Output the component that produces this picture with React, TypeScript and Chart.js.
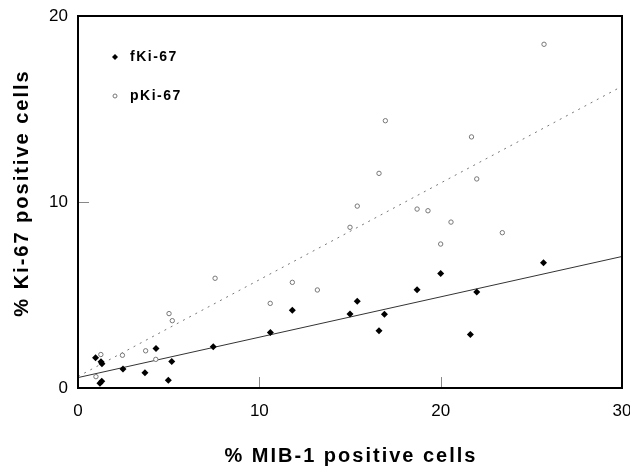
import React, { useEffect, useRef } from "react";
import { Chart, registerables } from "chart.js";

Chart.register(...registerables);

// Filled markers: fKi-67
const fKi67X = [0.97, 1.27, 1.32, 1.21, 1.31, 2.48, 3.69, 4.3, 5.17, 4.98, 7.46, 10.61, 11.82, 15.0, 15.4, 16.6, 16.9, 18.7, 20.0, 21.99, 21.64, 25.67];
const fKi67Y = [1.63, 1.41, 1.3, 0.25, 0.36, 1.02, 0.82, 2.13, 1.43, 0.42, 2.22, 2.99, 4.18, 3.98, 4.66, 3.08, 3.96, 5.28, 6.15, 5.16, 2.87, 6.74];

// Open markers: pKi-67
const pKi67X = [25.7, 16.95, 21.7, 16.6, 21.99, 15.4, 15.0, 18.7, 19.3, 20.57, 23.4, 20.0, 11.82, 13.2, 10.6, 7.56, 5.02, 5.2, 3.73, 2.45, 1.26, 4.29, 0.99];
const pKi67Y = [18.48, 14.37, 13.5, 11.54, 11.24, 9.78, 8.64, 9.62, 9.53, 8.92, 8.35, 7.74, 5.68, 5.27, 4.55, 5.9, 4.0, 3.62, 2.0, 1.76, 1.8, 1.54, 0.61];

// Regression lines (endpoints)
const fitX = [0, 30];
const fKi67Fit = [0.56, 7.07];
const pKi67Fit = [0.62, 16.22];

const xTicks = [0, 10, 20, 30];
const yTicks = [0, 10, 20];

const legendLabels = ["fKi-67", "pKi-67"];
const xTitle = "% MIB-1 positive cells";
const yTitle = "% Ki-67 positive cells";

const FONT = "'Liberation Sans', Arial, Helvetica, sans-serif";

const toPts = (xs: number[], ys: number[]) => xs.map((x, i) => ({ x, y: ys[i] }));

const decorPlugin = {
  id: "decor",
  afterDraw(chart: any) {
    const { ctx, chartArea } = chart;
    const { left, right, top, bottom } = chartArea;
    const xs = chart.scales.x;
    const ys = chart.scales.y;
    ctx.save();
    // inner ticks
    ctx.strokeStyle = "#888";
    ctx.lineWidth = 1;
    xTicks.slice(1, -1).forEach((v) => {
      const px = Math.round(xs.getPixelForValue(v)) + 0.5;
      ctx.beginPath();
      ctx.moveTo(px, bottom);
      ctx.lineTo(px, bottom - 11);
      ctx.stroke();
    });
    yTicks.slice(1, -1).forEach((v) => {
      const py = Math.round(ys.getPixelForValue(v)) + 0.5;
      ctx.beginPath();
      ctx.moveTo(left, py);
      ctx.lineTo(left + 11, py);
      ctx.stroke();
    });
    // frame
    ctx.strokeStyle = "#000";
    ctx.lineWidth = 2;
    ctx.strokeRect(left, top, right - left, bottom - top);

    // titles
    ctx.fillStyle = "#000";
    ctx.font = `bold 20px ${FONT}`;
    (ctx as any).letterSpacing = "2px";
    ctx.textAlign = "center";
    ctx.textBaseline = "middle";
    ctx.fillText(xTitle, (left + right) / 2 + 1, 456);
    ctx.save();
    ctx.translate(22, 194);
    ctx.rotate(-Math.PI / 2);
    ctx.fillText(yTitle, 1, 0);
    ctx.restore();

    // legend
    ctx.font = `bold 14px ${FONT}`;
    (ctx as any).letterSpacing = "1.5px";
    ctx.textAlign = "left";
    const ly = [57, 96];
    // filled marker
    ctx.fillStyle = "#000";
    ctx.beginPath();
    ctx.moveTo(115, ly[0] - 3);
    ctx.lineTo(118, ly[0]);
    ctx.lineTo(115, ly[0] + 3);
    ctx.lineTo(112, ly[0]);
    ctx.closePath();
    ctx.fill();
    ctx.fillText(legendLabels[0], 130, ly[0]);
    // open marker
    ctx.strokeStyle = "#777";
    ctx.lineWidth = 1;
    ctx.beginPath();
    ctx.arc(115, ly[1], 2, 0, Math.PI * 2);
    ctx.stroke();
    ctx.fillStyle = "#000";
    ctx.fillText(legendLabels[1], 130, ly[1]);
    ctx.restore();
  },
};

export default function App() {
  const ref = useRef<HTMLCanvasElement | null>(null);
  useEffect(() => {
    document.body.style.margin = "0";
    const canvas = ref.current;
    if (!canvas) return;
    const chart = new Chart(canvas, {
      type: "scatter",
      data: {
        datasets: [
          {
            label: legendLabels[0],
            data: toPts(fKi67X, fKi67Y),
            pointStyle: "rectRot",
            pointRadius: 3.5,
            backgroundColor: "#000",
            borderColor: "#000",
            borderWidth: 0,
            order: 0,
          },
          {
            label: legendLabels[1],
            data: toPts(pKi67X, pKi67Y),
            pointStyle: "circle",
            pointRadius: 2.2,
            backgroundColor: "#fff",
            borderColor: "#777",
            borderWidth: 1,
            order: 0,
          },
          {
            label: "fKi-67 fit",
            data: toPts(fitX, fKi67Fit),
            showLine: true,
            pointRadius: 0,
            borderColor: "#333",
            borderWidth: 1,
            order: 1,
          },
          {
            label: "pKi-67 fit",
            data: toPts(fitX, pKi67Fit),
            showLine: true,
            pointRadius: 0,
            borderColor: "#777",
            borderWidth: 1,
            borderDash: [2, 5],
            order: 1,
          },
        ],
      },
      options: {
        responsive: false,
        animation: false,
        devicePixelRatio: 1,
        layout: { padding: { top: 16, right: 8, left: 0, bottom: 0 } },
        plugins: { legend: { display: false }, tooltip: { enabled: false } },
        scales: {
          x: {
            type: "linear",
            min: 0,
            max: 30,
            afterBuildTicks: (s: any) => {
              s.ticks = xTicks.map((v) => ({ value: v }));
            },
            ticks: { color: "#000", font: { family: FONT, size: 17 }, padding: 13, maxRotation: 0 },
            grid: { display: false, drawTicks: false },
            border: { display: false },
            afterFit: (s: any) => {
              s.height = 83;
              s.paddingLeft = 0;
              s.paddingRight = 0;
            },
          },
          y: {
            type: "linear",
            min: 0,
            max: 20,
            afterBuildTicks: (s: any) => {
              s.ticks = yTicks.map((v) => ({ value: v }));
            },
            ticks: { color: "#000", font: { family: FONT, size: 17 }, padding: 10 },
            grid: { display: false, drawTicks: false },
            border: { display: false },
            afterFit: (s: any) => {
              s.width = 78;
              s.paddingTop = 0;
              s.paddingBottom = 0;
            },
          },
        },
      },
      plugins: [decorPlugin],
    });
    return () => chart.destroy();
  }, []);
  return <canvas ref={ref} width={630} height={471} style={{ display: "block" }} />;
}
